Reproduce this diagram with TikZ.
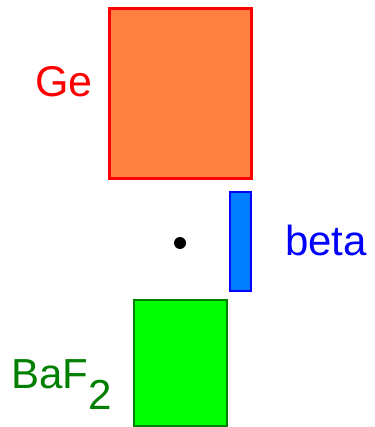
\documentclass[tikz,border=0pt]{standalone}
\usepackage{fontspec}
\setmainfont{Liberation Sans}
\usepackage{xcolor}
\usetikzlibrary{positioning}
\definecolor{georange}{RGB}{255,128,64}
\definecolor{betablue}{RGB}{0,128,255}
\definecolor{bafgreen}{RGB}{0,255,0}
\definecolor{bafdark}{RGB}{0,128,0}

\begin{document}
\begin{tikzpicture}[
x=1pt,y=-1pt,
detector/.style={
draw,
rectangle,
inner sep=0pt
},
label/.style={
anchor=base west,
inner sep=0pt,
font=\fontsize{42}{42}\selectfont
}
]
\useasboundingbox (0,0) rectangle (374,427);

\node (ge) [detector,fill=georange,draw=red,line width=3pt,
minimum width=142pt,minimum height=170pt] at (180.5,93.5) {};

\node (beta) [detector,fill=betablue,draw=blue,line width=2.5pt,
minimum width=21pt,minimum height=99pt] at (240.5,241.5) {};

\node (baf) [detector,fill=bafgreen,draw=bafdark,line width=2pt,
minimum width=93pt,minimum height=126pt] at (180.5,363) {};

\node (src) [circle,fill=black,inner sep=0pt,minimum size=12pt] at (180,243) {};

\node (gelabel) [label,text=red,font=\fontsize{43}{43}\selectfont] at (35,97) {Ge};
\node (betalabel) [label,text=blue] at (285,255) {beta};
\node (baflabel) [label,text=bafdark] at (11,388) {BaF\raisebox{-21pt}{2}};

\end{tikzpicture}
\end{document}
